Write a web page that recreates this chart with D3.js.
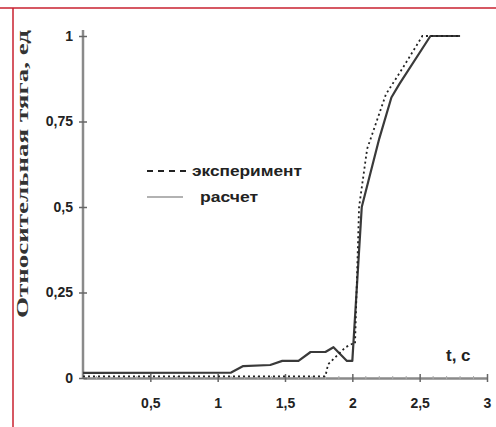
<!DOCTYPE html>
<html>
<head>
<meta charset="utf-8">
<script src="https://cdn.jsdelivr.net/npm/d3@7"></script>
<style>
  body { margin: 0; background: #fff; }
  svg { display: block; }
</style>
</head>
<body>
<div id="graph"></div>
<script>
// values
const tCalc = [0, 1.1, 1.19, 1.39, 1.48, 1.6, 1.69, 1.8, 1.86, 1.96, 2.0, 2.07, 2.2, 2.29, 2.35, 2.58, 2.8];
const vCalc = [0.015, 0.016, 0.035, 0.038, 0.05, 0.05, 0.076, 0.076, 0.09, 0.05, 0.05, 0.5, 0.7, 0.82, 0.86, 1.0, 1.0];

const tExp = [0, 1.8, 1.82, 1.95, 2.0, 2.02, 2.05, 2.11, 2.25, 2.38, 2.52, 2.8];
const vExp = [0.005, 0.005, 0.04, 0.09, 0.1, 0.1, 0.5, 0.67, 0.83, 0.91, 1.0, 1.0];

const xTicks = [0.5, 1, 1.5, 2, 2.5, 3];
const xTickLabels = ["0,5", "1", "1,5", "2", "2,5", "3"];
const yTicks = [0, 0.25, 0.5, 0.75, 1];
const yTickLabels = ["0", "0,25", "0,5", "0,75", "1"];

const legendNames = ["эксперимент", "расчет"];
const yTitle = "Относительная тяга, ед";
const xTitle = "t, c";

const W = 496, H = 427;

const svg = d3.select("#graph").append("svg")
  .attr("width", W)
  .attr("height", H);

// red frame lines
svg.append("line").attr("x1", 0).attr("x2", W).attr("y1", 8).attr("y2", 8)
  .attr("stroke", "#c8202f").attr("stroke-width", 1.5);
svg.append("line").attr("x1", 13).attr("x2", 13).attr("y1", 8).attr("y2", H)
  .attr("stroke", "#c8202f").attr("stroke-width", 1.5);

const x = d3.scaleLinear().domain([0, 3]).range([83, 487]);
const y = d3.scaleLinear().domain([0, 1]).range([378, 36]);

// axes
const gx = svg.append("g").attr("transform", `translate(0,${y(0)})`)
  .call(d3.axisBottom(x).tickValues(xTicks).tickSize(0).tickPadding(20)
    .tickFormat((d, i) => xTickLabels[i]));
gx.select(".domain").attr("stroke", "#8a8a8a").attr("stroke-width", 2.5);
gx.selectAll("text").attr("font-family", "Liberation Sans, Arial, sans-serif")
  .attr("font-weight", "bold").attr("font-size", 14).attr("fill", "#222");

// small cross ticks on x axis
gx.selectAll(".tick").append("line")
  .attr("y1", -4).attr("y2", 4).attr("stroke", "#666").attr("stroke-width", 1.5);
svg.append("g").selectAll("line")
  .data(d3.range(0.1, 3, 0.1).filter(d => Math.abs(d * 2 - Math.round(d * 2)) > 0.01))
  .join("line")
  .attr("x1", d => x(d)).attr("x2", d => x(d))
  .attr("y1", y(0) - 2).attr("y2", y(0) + 2)
  .attr("stroke", "#aaa").attr("stroke-width", 1);

const gy = svg.append("g").attr("transform", `translate(${x(0)},0)`)
  .call(d3.axisLeft(y).tickValues(yTicks).tickSize(0).tickPadding(10)
    .tickFormat((d, i) => yTickLabels[i]));
gy.select(".domain").attr("stroke", "#8a8a8a").attr("stroke-width", 2.5)
  .attr("d", `M0,${y(0)}V${y(1) - 6}`);
gy.selectAll("text").attr("font-family", "Liberation Sans, Arial, sans-serif")
  .attr("font-weight", "bold").attr("font-size", 14).attr("fill", "#222");
gy.selectAll(".tick").append("line")
  .attr("x1", -4).attr("x2", 4).attr("stroke", "#666").attr("stroke-width", 1.5);

// titles
svg.append("text")
  .attr("transform", `translate(28,174) rotate(-90)`)
  .attr("text-anchor", "middle")
  .attr("font-family", "Liberation Serif, Times New Roman, serif")
  .attr("font-weight", "bold").attr("font-size", 17).attr("fill", "#333")
  .attr("textLength", 288).attr("lengthAdjust", "spacingAndGlyphs")
  .text(yTitle);

svg.append("text")
  .attr("x", 446).attr("y", 361)
  .attr("font-family", "Liberation Sans, Arial, sans-serif")
  .attr("font-weight", "bold").attr("font-size", 17).attr("fill", "#222")
  .text(xTitle);

// curves
const line = d3.line().x(d => x(d[0])).y(d => y(d[1]));

svg.append("path")
  .datum(tCalc.map((t, i) => [t, vCalc[i]]))
  .attr("fill", "none").attr("stroke", "#3a3a3a").attr("stroke-width", 2.2)
  .attr("stroke-linejoin", "round")
  .attr("d", line);

svg.append("path")
  .datum(tExp.map((t, i) => [t, vExp[i]]))
  .attr("fill", "none").attr("stroke", "#222").attr("stroke-width", 1.8)
  .attr("stroke-dasharray", "2,3")
  .attr("d", line);

// legend
const lg = svg.append("g");
lg.append("line").attr("x1", 147).attr("x2", 188).attr("y1", 171).attr("y2", 171)
  .attr("stroke", "#222").attr("stroke-width", 2.2).attr("stroke-dasharray", "6,5");
lg.append("line").attr("x1", 147).attr("x2", 183).attr("y1", 197).attr("y2", 197)
  .attr("stroke", "#999").attr("stroke-width", 1.5);
lg.selectAll("text").data(legendNames).join("text")
  .attr("x", (d, i) => i === 0 ? 192 : 200)
  .attr("y", (d, i) => i === 0 ? 176 : 202)
  .attr("font-family", "Liberation Sans, Arial, sans-serif")
  .attr("font-size", 14).attr("font-weight", "bold").attr("fill", "#222")
  .attr("textLength", (d, i) => i === 0 ? 110 : 58)
  .attr("lengthAdjust", "spacingAndGlyphs")
  .text(d => d);
</script>
</body>
</html>
